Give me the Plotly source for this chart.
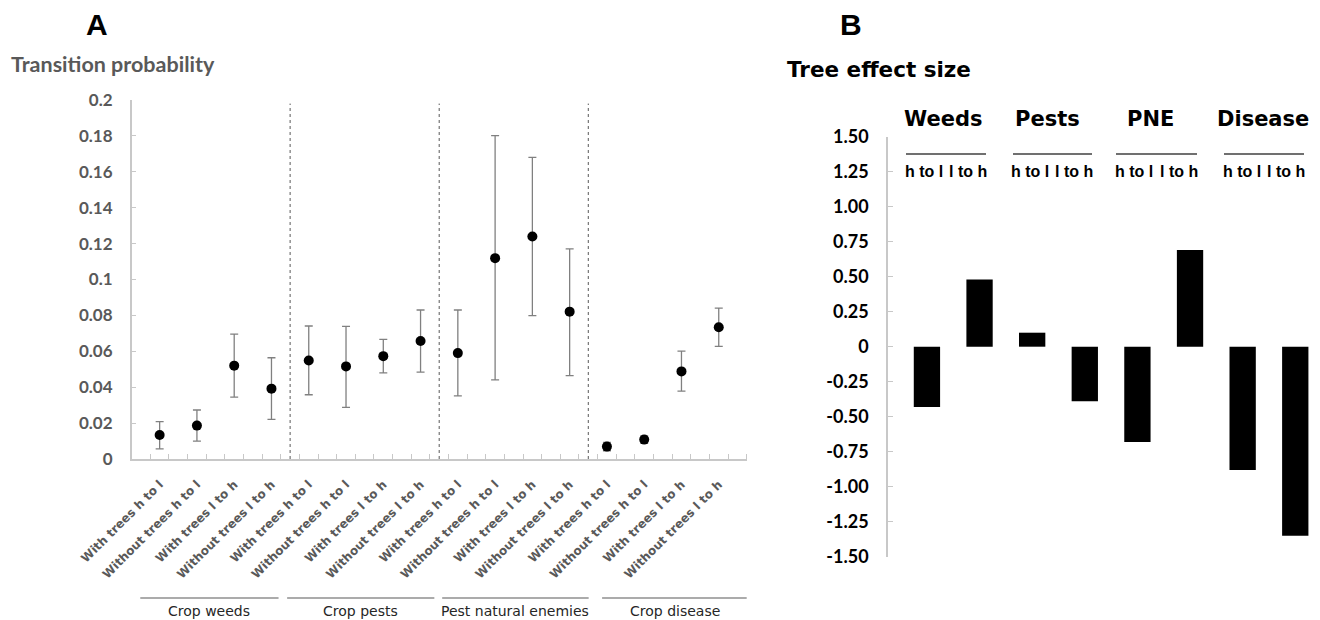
import plotly.graph_objects as go

# ---- Panel A: transition probabilities with 95% intervals ----
transitions = ["With trees h to l", "Without trees h to l",
               "With trees l to h", "Without trees l to h"]
groups_a = ["Crop weeds", "Crop pests", "Pest natural enemies", "Crop disease"]
tick_labels_a = transitions * 4

prob = [0.0134, 0.0186, 0.0520, 0.0392,
        0.0549, 0.0516, 0.0573, 0.0657,
        0.0590, 0.1119, 0.1240, 0.0821,
        0.0069, 0.0108, 0.0488, 0.0734]
prob_upper = [0.0208, 0.0273, 0.0696, 0.0564,
              0.0741, 0.0739, 0.0666, 0.0830,
              0.0830, 0.1802, 0.1680, 0.1171,
              0.0092, 0.0128, 0.0601, 0.0840]
prob_lower = [0.0056, 0.0100, 0.0345, 0.0221,
              0.0358, 0.0288, 0.0480, 0.0484,
              0.0352, 0.0441, 0.0799, 0.0465,
              0.0046, 0.0088, 0.0378, 0.0627]

y_ticks_a = [0, 0.02, 0.04, 0.06, 0.08, 0.1, 0.12, 0.14, 0.16, 0.18, 0.2]
y_tick_text_a = ["0", "0.02", "0.04", "0.06", "0.08", "0.1", "0.12",
                 "0.14", "0.16", "0.18", "0.2"]

# ---- Panel B: tree effect sizes ----
groups_b = ["Weeds", "Pests", "PNE", "Disease"]
bar_labels_b = ["h to l", "l to h"]
effect = [-0.43, 0.48, 0.10, -0.39, -0.68, 0.69, -0.88, -1.35]
y_ticks_b = [1.5, 1.25, 1.0, 0.75, 0.5, 0.25, 0, -0.25, -0.5, -0.75,
             -1.0, -1.25, -1.5]
y_tick_text_b = ["1.50", "1.25", "1.00", "0.75", "0.50", "0.25", "0",
                 "-0.25", "-0.50", "-0.75", "-1.00", "-1.25", "-1.50"]

W, H = 1320, 620
GREY = "#595959"
AXIS_GREY = "#c8c8c8"


def px(x):
    return x / W


def py(y):
    return 1 - y / H


x_pos_a = list(range(len(prob)))
err_plus = [u - v for u, v in zip(prob_upper, prob)]
err_minus = [v - l for v, l in zip(prob, prob_lower)]

fig = go.Figure()

fig.add_trace(go.Scatter(
    x=x_pos_a, y=prob, mode="markers",
    marker=dict(color="black", size=10),
    error_y=dict(type="data", symmetric=False, array=err_plus,
                 arrayminus=err_minus, color="#808080",
                 thickness=1.3, width=4),
    xaxis="x", yaxis="y", showlegend=False, hoverinfo="skip",
))

fig.add_trace(go.Bar(
    x=list(range(len(effect))), y=effect, width=0.5,
    marker=dict(color="black", line=dict(width=0)),
    xaxis="x2", yaxis="y2", showlegend=False, hoverinfo="skip",
))

# dotted separators between the four groups of panel A
shapes = []
for sep in [3.5, 7.5, 11.5]:
    shapes.append(dict(type="line", xref="x", yref="y", x0=sep, x1=sep,
                       y0=0, y1=0.198,
                       line=dict(color=GREY, width=1, dash="dot")))

# group rules and names below the rotated labels of panel A
group_spans_a = [(-0.52, 3.19), (3.42, 7.37), (7.58, 11.51), (11.87, 15.80)]
annotations = []
for name, (a, b) in zip(groups_a, group_spans_a):
    shapes.append(dict(type="line", xref="x", yref="paper", x0=a, x1=b,
                       y0=py(598), y1=py(598),
                       line=dict(color=GREY, width=1.2)))
    annotations.append(dict(xref="x", yref="paper", x=(a + b) / 2,
                            y=py(611), text=name, showarrow=False,
                            font=dict(family="DejaVu Sans", size=14,
                                      color="#262626"),
                            xanchor="center", yanchor="middle"))

# headers of panel B: group name, rule, transition labels
header_x = [943, 1047, 1150, 1263]
rule_spans_b = [(906, 986), (1013, 1092), (1116, 1197), (1224, 1304)]
sub_x = [(924, 968), (1030, 1074), (1134, 1179), (1242, 1286)]
for name, hx, (r0, r1), (s0, s1) in zip(groups_b, header_x,
                                         rule_spans_b, sub_x):
    annotations.append(dict(xref="paper", yref="paper", x=px(hx),
                            y=py(119), text=f"<b>{name}</b>",
                            showarrow=False, xanchor="center",
                            yanchor="middle",
                            font=dict(family="DejaVu Sans", size=21,
                                      color="black")))
    shapes.append(dict(type="line", xref="paper", yref="paper",
                       x0=px(r0), x1=px(r1), y0=py(154), y1=py(154),
                       line=dict(color="#404040", width=1.5)))
    for sx, lab in zip((s0, s1), bar_labels_b):
        annotations.append(dict(xref="paper", yref="paper", x=px(sx),
                                y=py(171), text=f"<b>{lab}</b>",
                                showarrow=False, xanchor="center",
                                yanchor="middle",
                                font=dict(family="Liberation Sans",
                                          size=16, color="black")))

# panel letters and axis titles
annotations += [
    dict(xref="paper", yref="paper", x=px(97), y=py(25), text="<b>A</b>",
         showarrow=False, xanchor="center", yanchor="middle",
         font=dict(family="Liberation Sans", size=30, color="black")),
    dict(xref="paper", yref="paper", x=px(851), y=py(25), text="<b>B</b>",
         showarrow=False, xanchor="center", yanchor="middle",
         font=dict(family="Liberation Sans", size=30, color="black")),
    dict(xref="paper", yref="paper", x=px(9), y=py(64),
         text="<b>Transition probability</b>", showarrow=False,
         xanchor="left", yanchor="middle",
         font=dict(family="Lato", size=21.5, color=GREY)),
    dict(xref="paper", yref="paper", x=px(785), y=py(69),
         text="<b>Tree effect size</b>", showarrow=False,
         xanchor="left", yanchor="middle",
         font=dict(family="DejaVu Sans", size=21.5, color="black")),
]

fig.update_layout(
    template="none",
    width=W, height=H,
    margin=dict(l=0, r=0, t=0, b=0, pad=0, autoexpand=False),
    paper_bgcolor="white", plot_bgcolor="white",
    shapes=shapes, annotations=annotations,
    xaxis=dict(
        domain=[px(131.7), px(746.7)], range=[-0.75, 15.75],
        anchor="y", automargin=False, showgrid=False, zeroline=False,
        showline=True, linecolor=AXIS_GREY, linewidth=1.5,
        tickmode="array", tickvals=x_pos_a, ticktext=tick_labels_a,
        tickangle=-45, ticks="", ticklabelstandoff=12,
        tickfont=dict(family="DejaVu Sans", size=12, color=GREY,
                      weight="bold"),
        minor=dict(ticks="inside", tick0=0.25, dtick=0.5, ticklen=5,
                   tickcolor=AXIS_GREY, tickwidth=1.2, showgrid=False),
    ),
    yaxis=dict(
        domain=[py(459), py(100)], range=[0, 0.2], anchor="x",
        automargin=False, showgrid=False, zeroline=False,
        showline=True, linecolor=AXIS_GREY, linewidth=1.5,
        tickmode="array", tickvals=y_ticks_a, ticktext=y_tick_text_a,
        ticks="inside", ticklen=5, tickcolor=AXIS_GREY, tickwidth=1.2,
        ticklabelstandoff=14,
        tickfont=dict(family="Lato", size=17, color=GREY, weight="bold"),
    ),
    xaxis2=dict(
        domain=[px(888), 1.0], range=[-0.74, 7.47], anchor="y2",
        automargin=False, showgrid=False, zeroline=False, showline=False,
        showticklabels=False, ticks="",
    ),
    yaxis2=dict(
        domain=[py(556.7), py(136.7)], range=[-1.5, 1.5], anchor="x2",
        automargin=False, showgrid=False, zeroline=False,
        showline=True, linecolor=AXIS_GREY, linewidth=1.5,
        tickmode="array", tickvals=y_ticks_b, ticktext=y_tick_text_b,
        ticks="inside", ticklen=5, tickcolor=AXIS_GREY, tickwidth=1.2,
        ticklabelstandoff=14,
        tickfont=dict(family="Lato", size=18, color="black",
                      weight="bold"),
    ),
)

fig.write_html("out.html")
